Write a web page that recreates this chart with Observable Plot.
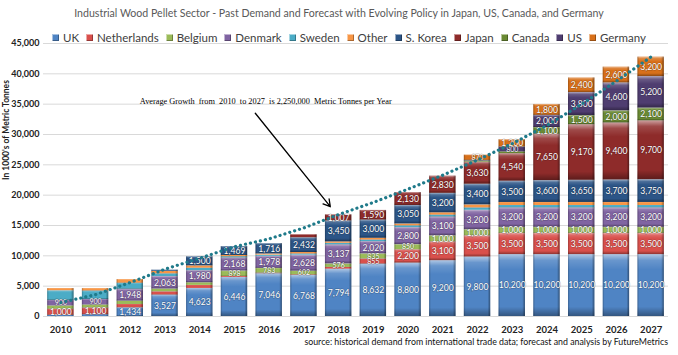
<!DOCTYPE html>
<html>
<head>
<meta charset="utf-8">
<script src="https://cdn.jsdelivr.net/npm/d3@7"></script>
<script src="https://cdn.jsdelivr.net/npm/@observablehq/plot@0.6"></script>
<style>
  body { margin: 0; background: #fff; }
  #wrap { position: relative; width: 678px; height: 355px; overflow: hidden; font-family: Lato, "Open Sans", sans-serif; }
  #chart { position: absolute; left: 0; top: 0; }
  #title { position: absolute; top: 7px; left: 0; width: 678px; text-align: center; font-size: 10.6px; color: #595959; white-space: nowrap; }
  #legend { position: absolute; top: 31px; left: 52px; width: 594px; display: flex; justify-content: space-between; font-size: 11.5px; color: #404040; white-space: nowrap; }
  #legend .item { display: flex; align-items: center; }
  #legend .sw { width: 7px; height: 7px; margin-right: 4px; box-shadow: inset 1px 1px 0 rgba(255,255,255,0.5), inset -1px -1px 0 rgba(0,0,0,0.3); }
  #caption { position: absolute; right: 10px; top: 336px; font-size: 8.8px; color: #111; white-space: nowrap; }
</style>
</head>
<body>
<div id="wrap">
  <div id="chart"></div>
  <div id="title">Industrial Wood Pellet Sector - Past Demand and Forecast with Evolving Policy in Japan, US, Canada, and Germany</div>
  <div id="legend"></div>
  <div id="caption">source: historical demand from international trade data; forecast and analysis by FutureMetrics</div>
</div>
<script>
// ---- data ----
const years = [2010, 2011, 2012, 2013, 2014, 2015, 2016, 2017, 2018, 2019, 2020, 2021, 2022, 2023, 2024, 2025, 2026, 2027];
const seriesNames = ["UK", "Netherlands", "Belgium", "Denmark", "Sweden", "Other", "S. Korea", "Japan", "Canada", "US", "Germany"];
const seriesColors = ["#4f84c4", "#d9504c", "#9bbb59", "#8064a2", "#4bacc6", "#f79646", "#2c5587", "#8e2b2a", "#6a8a33", "#4f3d70", "#d8701a"];

const uk          = [200, 300, 1434, 3527, 4623, 6446, 7046, 6768, 7794, 8632, 8800, 9200, 9800, 10200, 10200, 10200, 10200, 10200];
const netherlands = [1000, 1100, 550, 550, 500, 150, 100, 100, 300, 855, 2200, 3100, 3500, 3500, 3500, 3500, 3500, 3500];
const belgium     = [550, 500, 550, 450, 450, 898, 783, 602, 576, 835, 850, 1000, 1000, 1000, 1000, 1000, 1000, 1000];
const denmark     = [900, 900, 1948, 2063, 1980, 2168, 1978, 2628, 3137, 2020, 2800, 3100, 3200, 3200, 3200, 3200, 3200, 3200];
const sweden      = [1600, 1400, 1000, 450, 400, 200, 200, 200, 250, 250, 300, 300, 400, 400, 400, 400, 400, 400];
const other       = [350, 400, 600, 400, 400, 200, 200, 250, 250, 300, 300, 400, 500, 500, 500, 500, 500, 500];
const sKorea      = [0, 0, 0, 200, 1500, 1469, 1716, 2432, 3450, 3000, 3050, 3200, 3400, 3500, 3600, 3650, 3700, 3750];
const japan       = [0, 0, 0, 0, 0, 0, 0, 491, 1007, 1590, 2130, 2830, 3630, 4540, 7650, 9170, 9400, 9700];
const canada      = [0, 0, 0, 0, 0, 0, 0, 0, 0, 0, 0, 0, 200, 300, 1100, 1500, 2000, 2100];
const us          = [0, 0, 0, 0, 0, 0, 0, 0, 0, 0, 0, 0, 100, 800, 2000, 3800, 4600, 5200];
const germany     = [0, 0, 0, 0, 0, 0, 0, 0, 0, 0, 0, 0, 870, 1200, 1800, 2400, 2600, 3200];

// dotted trendline
const trend = [2300, 3600, 5600, 7800, 9600, 11500, 12800, 14600, 16800, 18800, 21000, 23300, 25800, 28500, 31500, 35000, 38800, 42800];

const yTicks = [0, 5000, 10000, 15000, 20000, 25000, 30000, 35000, 40000, 45000];
const unlabeledSeries = ["Sweden", "Other"];
const annotationText = "Average Growth  from  2010  to 2027  is 2,250,000  Metric Tonnes per Year";
const annotationAt = {year: 2015.9, value: 35450};
const arrowFrom = {year: 2015.6, value: 33500};
const arrowTo = {year: 2017.76, value: 18100};

// ---- build table ----
const seriesValues = [uk, netherlands, belgium, denmark, sweden, other, sKorea, japan, canada, us, germany];
const rows = [];
years.forEach((year, i) => {
  seriesNames.forEach((s, j) => {
    rows.push({year, series: s, value: seriesValues[j][i]});
  });
});
const trendRows = years.map((year, i) => ({year, value: trend[i]}));

const fmt = d3.format(",");
const half = 0.38;
const barOpts = {x: "year", x1: d => d.year - half, x2: d => d.year + half, y: "value"};

const plot = Plot.plot({
  width: 678,
  height: 355,
  marginLeft: 43,
  marginRight: 10,
  marginTop: 43,
  marginBottom: 39,
  style: {fontFamily: "Lato, 'Open Sans', sans-serif", background: "transparent", overflow: "visible"},
  x: {domain: [2009.5, 2027.5]},
  y: {domain: [0, 45000]},
  color: {domain: seriesNames, range: seriesColors},
  marks: [
    Plot.gridY({ticks: yTicks, stroke: "#d9d9d9", strokeOpacity: 1}),
    Plot.axisY({ticks: yTicks, tickFormat: d => fmt(d), tickSize: 0, tickPadding: 4, fontWeight: "bold", fontSize: 9, label: null, fill: "#222"}),
    Plot.axisX({ticks: years, tickFormat: d => String(d), tickSize: 0, tickPadding: 10, fontWeight: "bold", fontSize: 9.5, label: null, fill: "#222"}),
    Plot.text(["In 1000's of Metric Tonnes"], {frameAnchor: "left", rotate: -90, dx: -37.5, fontWeight: "bold", fontSize: 8.5, fill: "#222"}),
    Plot.rect(rows, Plot.stackY({...barOpts, fill: "series"})),
    Plot.rect(rows, Plot.stackY({...barOpts, fill: "url(#bevelV)"})),
    Plot.rect(rows, Plot.stackY({...barOpts, fill: "url(#bevelH)"})),
    Plot.text(rows, Plot.stackY({x: "year", y: "value",
      text: d => (d.value >= 570 && !unlabeledSeries.includes(d.series)) ? fmt(d.value) : "",
      fontSize: d => d.value < 1000 ? 7 : 8.6,
      fill: "white", stroke: "rgba(0,0,0,0.25)", strokeWidth: 1.2, paintOrder: "stroke"})),
    Plot.line(trendRows, {x: "year", y: "value", stroke: "#1f7a8a", strokeWidth: 3.2, strokeDasharray: "0.1 5", strokeLinecap: "round"}),
    Plot.text([annotationAt], {x: "year", y: "value", text: () => annotationText, fontFamily: "'Liberation Serif', serif", fontSize: 8.3, fill: "#000"}),
    Plot.arrow([{from: arrowFrom, to: arrowTo}], {x1: d => d.from.year, y1: d => d.from.value, x2: d => d.to.year, y2: d => d.to.value, stroke: "#000", strokeWidth: 1.3, headLength: 9, bend: false})
  ]
});

// gradients for the bevelled bar look
const ns = "http://www.w3.org/2000/svg";
const defs = document.createElementNS(ns, "defs");
defs.innerHTML = `
  <linearGradient id="bevelV" x1="0" y1="0" x2="0" y2="1">
    <stop offset="0" stop-color="#fff" stop-opacity="0.55"/>
    <stop offset="0.1" stop-color="#fff" stop-opacity="0.15"/>
    <stop offset="0.25" stop-color="#fff" stop-opacity="0"/>
    <stop offset="0.85" stop-color="#000" stop-opacity="0"/>
    <stop offset="1" stop-color="#000" stop-opacity="0.35"/>
  </linearGradient>
  <linearGradient id="bevelH" x1="0" y1="0" x2="1" y2="0">
    <stop offset="0" stop-color="#000" stop-opacity="0.25"/>
    <stop offset="0.07" stop-color="#000" stop-opacity="0"/>
    <stop offset="0.9" stop-color="#000" stop-opacity="0"/>
    <stop offset="1" stop-color="#000" stop-opacity="0.4"/>
  </linearGradient>`;
plot.insertBefore(defs, plot.firstChild);
document.getElementById("chart").appendChild(plot);

// legend
const legend = document.getElementById("legend");
seriesNames.forEach((s, i) => {
  const item = document.createElement("div");
  item.className = "item";
  const sw = document.createElement("span");
  sw.className = "sw";
  sw.style.background = seriesColors[i];
  const lab = document.createElement("span");
  lab.textContent = s;
  item.appendChild(sw);
  item.appendChild(lab);
  legend.appendChild(item);
});
</script>
</body>
</html>
